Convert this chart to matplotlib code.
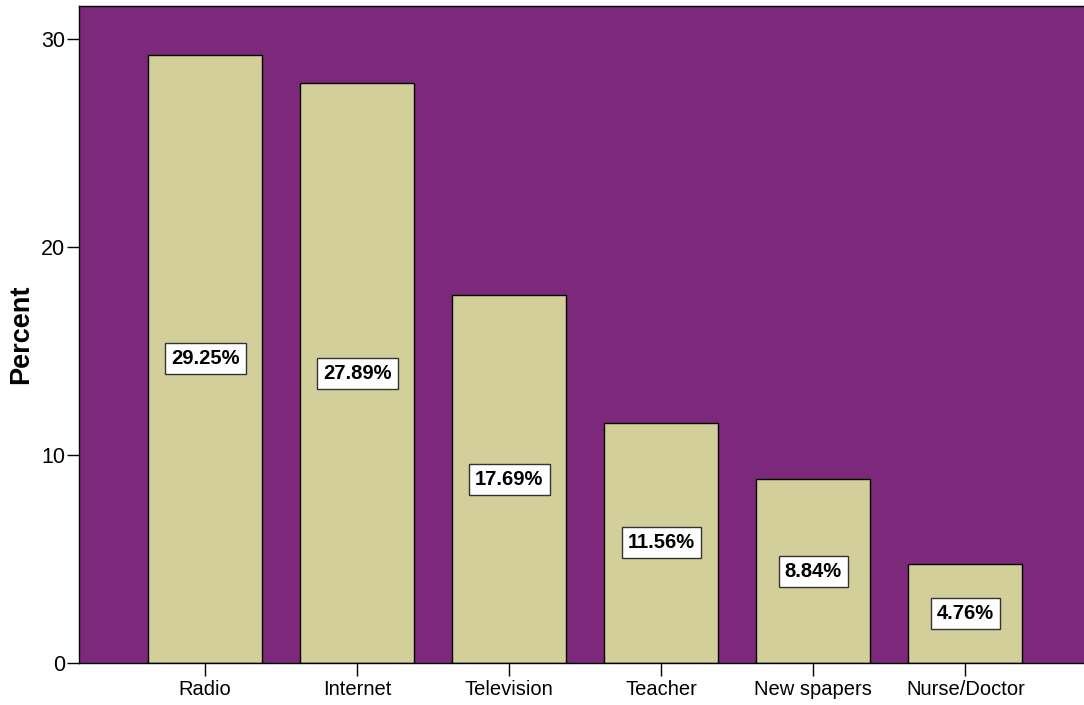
import matplotlib
matplotlib.use("Agg")
import matplotlib.pyplot as plt

fuentes = ["Radio", "Internet", "Television", "Teacher", "New spapers", "Nurse/Doctor"]
porcentajes = [29.25, 27.89, 17.69, 11.56, 8.84, 4.76]
ticks_y = [0, 10, 20, 30]

plt.rcParams['font.family'] = ['Liberation Sans', 'DejaVu Sans']

fig = plt.figure(figsize=(10.84, 7.05), dpi=100)
ax = fig.add_axes([0.0729, 0.0596, 0.9271, 0.9319])
ax.set_facecolor("#7C297B")

x = range(len(fuentes))
ax.bar(x, porcentajes, width=0.75, color="#D3CF9A", edgecolor="black", linewidth=1)

# etiqueta de porcentaje en el centro de cada barra
for i in x:
  ax.text(i, porcentajes[i] / 2, "%.2f%%" % porcentajes[i], ha="center", va="center",
          fontsize=14.5, fontweight="bold",
          bbox=dict(boxstyle="square,pad=0.3", facecolor="white", edgecolor="#333333", linewidth=1))

ax.set_xlim(-0.83, 5.78)
ax.set_ylim(0, 31.6)
ax.set_xticks(list(x))
ax.set_xticklabels(fuentes, fontsize=14.5)
ax.set_yticks(ticks_y)
ax.tick_params(axis="y", length=9, width=1, labelsize=15.5, pad=1)
ax.tick_params(axis="x", length=9, width=1, pad=3)
ax.set_ylabel("Percent", fontsize=19.5, fontweight="bold")
ax.yaxis.set_label_coords(-0.045, 0.5)

for lado in ["left", "top", "bottom"]:
  ax.spines[lado].set_linewidth(1)
ax.spines["right"].set_visible(False)

fig.savefig("out.png", dpi=100)
plt.close()
